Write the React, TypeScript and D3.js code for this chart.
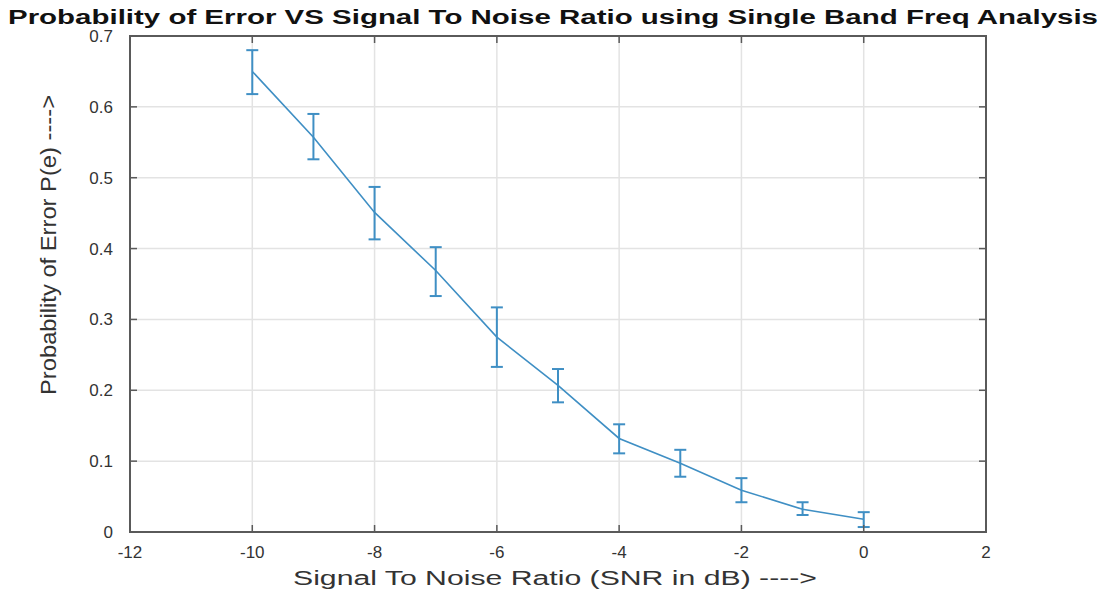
import React from "react";
import * as d3 from "d3";

const snr = [-10, -9, -8, -7, -6, -5, -4, -3, -2, -1, 0];
const pe = [0.65, 0.557, 0.451, 0.369, 0.275, 0.207, 0.132, 0.097, 0.059, 0.032, 0.018];
const peLow = [0.618, 0.526, 0.413, 0.333, 0.233, 0.183, 0.111, 0.078, 0.042, 0.024, 0.007];
const peHigh = [0.68, 0.59, 0.487, 0.402, 0.317, 0.23, 0.152, 0.116, 0.076, 0.042, 0.028];
const xTicks = [-12, -10, -8, -6, -4, -2, 0, 2];
const yTicks = [0, 0.1, 0.2, 0.3, 0.4, 0.5, 0.6, 0.7];

const title = "Probability of Error VS Signal To Noise Ratio using Single Band Freq Analysis";
const xLabel = "Signal To Noise Ratio (SNR in dB) ---->";
const yLabel = "Probability of Error P(e) ---->";

export default function App() {
  const W = 1110, H = 595;
  const left = 130, right = 986, top = 36, bottom = 532;
  const x = d3.scaleLinear().domain([-12, 2]).range([left, right]);
  const y = d3.scaleLinear().domain([0, 0.7]).range([bottom, top]);
  const line = d3.line<number>().x((_, i) => x(snr[i])).y((d) => y(d));
  const color = "#3f8fc4";
  const axisColor = "#5a5a5a";
  const font = "Arial, 'Liberation Sans', sans-serif";
  return (
    <svg width={W} height={H} style={{ position: "absolute", left: 0, top: 0, background: "#fff" }}>
      {xTicks.map((t) => (
        <line key={"gx" + t} x1={x(t)} x2={x(t)} y1={top} y2={bottom} stroke="#e3e3e3" strokeWidth={1.5} />
      ))}
      {yTicks.map((t) => (
        <line key={"gy" + t} x1={left} x2={right} y1={y(t)} y2={y(t)} stroke="#e3e3e3" strokeWidth={1.5} />
      ))}
      <path d={line(pe) || ""} fill="none" stroke={color} strokeWidth={1.6} />
      {snr.map((s, i) => (
        <g key={"e" + s} stroke={color} strokeWidth={2}>
          <line x1={x(s)} x2={x(s)} y1={y(peLow[i])} y2={y(peHigh[i])} />
          <line x1={x(s) - 6} x2={x(s) + 6} y1={y(peLow[i])} y2={y(peLow[i])} />
          <line x1={x(s) - 6} x2={x(s) + 6} y1={y(peHigh[i])} y2={y(peHigh[i])} />
        </g>
      ))}
      <rect x={left} y={top} width={right - left} height={bottom - top} fill="none" stroke={axisColor} strokeWidth={2} />
      {xTicks.map((t) => (
        <g key={"tx" + t} stroke={axisColor} strokeWidth={1.5}>
          <line x1={x(t)} x2={x(t)} y1={bottom} y2={bottom - 7} />
          <line x1={x(t)} x2={x(t)} y1={top} y2={top + 7} />
        </g>
      ))}
      {yTicks.map((t) => (
        <g key={"ty" + t} stroke={axisColor} strokeWidth={1.5}>
          <line x1={left} x2={left + 7} y1={y(t)} y2={y(t)} />
          <line x1={right} x2={right - 7} y1={y(t)} y2={y(t)} />
        </g>
      ))}
      {xTicks.map((t) => (
        <text key={"lx" + t} x={x(t)} y={558} textAnchor="middle" fontFamily={font} fontSize={17} fill="#333">
          {t}
        </text>
      ))}
      {yTicks.map((t) => (
        <text key={"ly" + t} x={113} y={y(t) + 6} textAnchor="end" fontFamily={font} fontSize={17} fill="#333">
          {t === 0 ? "0" : t.toFixed(1)}
        </text>
      ))}
      <text x={555} y={585} textAnchor="middle" fontFamily={font} fontSize={20} fill="#333" textLength={524} lengthAdjust="spacingAndGlyphs">
        {xLabel}
      </text>
      <text
        transform={`translate(56, 245) rotate(-90)`}
        textAnchor="middle"
        fontFamily={font}
        fontSize={22}
        fill="#333"
        textLength={300}
        lengthAdjust="spacingAndGlyphs"
      >
        {yLabel}
      </text>
      <text x={553} y={24} textAnchor="middle" fontFamily={font} fontSize={20} fontWeight="bold" fill="#111" textLength={1090} lengthAdjust="spacingAndGlyphs">
        {title}
      </text>
    </svg>
  );
}
